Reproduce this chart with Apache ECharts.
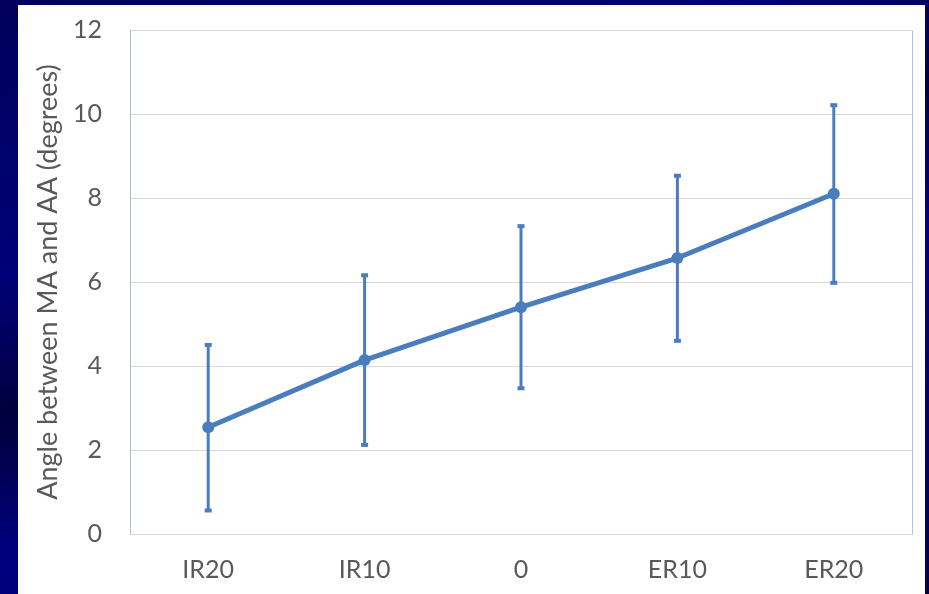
<!DOCTYPE html>
<html>
<head>
<meta charset="utf-8">
<script src="https://cdn.jsdelivr.net/npm/echarts@6/dist/echarts.min.js"></script>
<style>
  html, body { margin: 0; padding: 0; }
  body {
    width: 929px; height: 594px; overflow: hidden; position: relative;
    background: linear-gradient(160deg, #00005a 0%, #000078 30%, #00003c 45%, #000080 60%, #00004a 100%);
  }
  #panel {
    position: absolute; left: 18px; top: 5px; width: 907px; height: 589px;
    background: #ffffff;
  }
  #chart { position: absolute; left: 0; top: 0; width: 929px; height: 594px; }
</style>
</head>
<body>
<div id="panel"></div>
<div id="chart"></div>
<script>
// Rotation positions and measured angle (mean with ± error range)
const categories = ['IR20', 'IR10', '0', 'ER10', 'ER20'];
const meanAngle  = [2.54, 4.14, 5.40, 6.57, 8.10];
const upperAngle = [4.50, 6.16, 7.33, 8.53, 10.21];
const lowerAngle = [0.56, 2.12, 3.47, 4.60, 5.98];
const yTicks = [0, 2, 4, 6, 8, 10, 12];

const blue = '#4a7dbd';
const textGray = '#595959';
const fontFam = 'Lato, "Open Sans", sans-serif';

const chart = echarts.init(document.getElementById('chart'), null, { renderer: 'canvas' });

const errorData = categories.map((c, i) => [i, lowerAngle[i], upperAngle[i]]);

chart.setOption({
  backgroundColor: 'transparent',
  animation: false,
  grid: { left: 130, right: 17, top: 30, bottom: 60, containLabel: false },
  xAxis: [
    {
      type: 'category',
      data: categories,
      boundaryGap: true,
      axisTick: { show: false },
      axisLine: { show: true, lineStyle: { color: '#d9d9d9', width: 1 } },
      axisLabel: { color: textGray, fontSize: 25, fontFamily: fontFam, margin: 23 },
      z: 3
    },
    {
      type: 'category',
      data: categories,
      position: 'top',
      axisTick: { show: false },
      axisLabel: { show: false },
      axisLine: { show: true, lineStyle: { color: '#9db5da', width: 1, type: 'dotted' } }
    }
  ],
  yAxis: [
    {
      type: 'value',
      min: 0, max: 12, interval: 2,
      name: 'Angle between MA and AA (degrees)',
      nameLocation: 'middle',
      nameGap: 66,
      nameTextStyle: { color: textGray, fontSize: 27, fontFamily: fontFam },
      axisLine: { show: true, lineStyle: { color: '#9db5da', width: 1, type: 'dotted' } },
      axisTick: { show: false },
      axisLabel: {
        color: textGray, fontSize: 25, fontFamily: fontFam, margin: 28,
        formatter: v => (yTicks.indexOf(v) >= 0 ? String(v) : '')
      },
      splitLine: { show: true, lineStyle: { color: '#d9d9d9', width: 1 } }
    },
    {
      type: 'value',
      min: 0, max: 12, interval: 2,
      position: 'right',
      axisLine: { show: true, lineStyle: { color: '#9db5da', width: 1, type: 'dotted' } },
      axisTick: { show: false },
      axisLabel: { show: false },
      splitLine: { show: false }
    }
  ],
  series: [
    {
      name: 'error',
      type: 'custom',
      xAxisIndex: 0,
      yAxisIndex: 0,
      data: errorData,
      z: 4,
      renderItem: function (params, api) {
        const x = api.value(0);
        const top = api.coord([x, api.value(2)]);
        const bot = api.coord([x, api.value(1)]);
        const capW = 3.5;
        const style = { stroke: blue, lineWidth: 3 };
        const capStyle = { stroke: blue, lineWidth: 4 };
        return {
          type: 'group',
          children: [
            { type: 'line', shape: { x1: top[0], y1: top[1], x2: bot[0], y2: bot[1] }, style: style },
            { type: 'line', shape: { x1: top[0] - capW, y1: top[1], x2: top[0] + capW, y2: top[1] }, style: capStyle },
            { type: 'line', shape: { x1: bot[0] - capW, y1: bot[1], x2: bot[0] + capW, y2: bot[1] }, style: capStyle }
          ]
        };
      }
    },
    {
      name: 'mean',
      type: 'line',
      xAxisIndex: 0,
      yAxisIndex: 0,
      data: meanAngle,
      z: 5,
      symbol: 'circle',
      symbolSize: 12,
      itemStyle: { color: blue },
      lineStyle: { color: blue, width: 5 }
    }
  ]
});
</script>
</body>
</html>
